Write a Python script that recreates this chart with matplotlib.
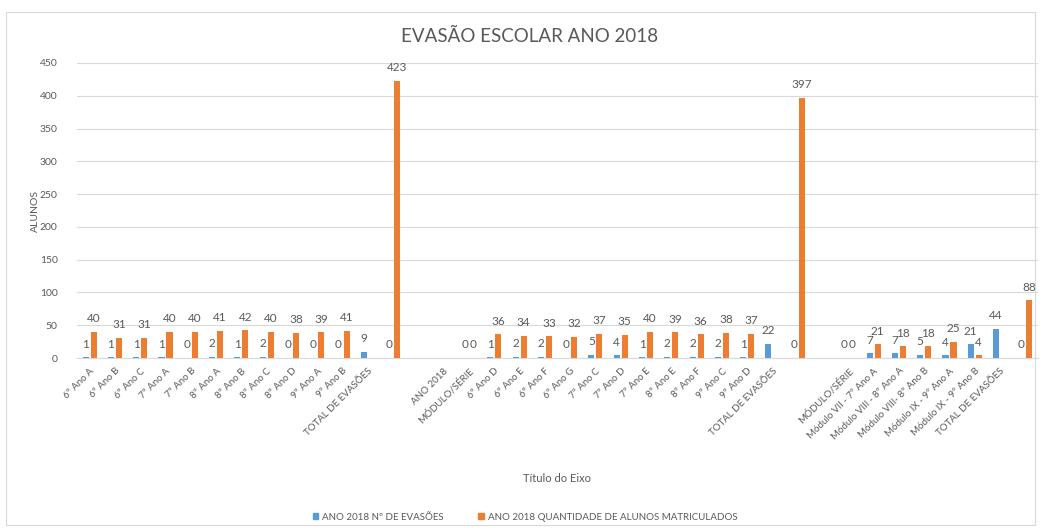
import numpy as np
import matplotlib
matplotlib.use("Agg")
import matplotlib.pyplot as plt
from matplotlib.patches import Patch, Rectangle

plt.rcParams['font.family'] = ['Lato', 'DejaVu Sans']

categories = [
    "6º Ano A", "6º Ano B", "6º Ano C", "7º Ano A", "7º Ano B", "8º Ano A", "8º Ano B",
    "8º Ano C", "8º Ano D", "9º Ano A", "9º Ano B", "TOTAL DE EVASÕES", "", "",
    "ANO 2018", "MÓDULO/SÉRIE", "6º Ano D", "6º Ano E", "6º Ano F", "6º Ano G",
    "7º Ano C", "7º Ano D", "7º Ano E", "8º Ano E", "8º Ano F", "9º Ano C", "9º Ano D",
    "TOTAL DE EVASÕES", "", "", "MÓDULO/SÉRIE", "Módulo VII - 7º Ano A",
    "Módulo VIII - 8º Ano A", "Módulo VIII- 8º Ano B", "Módulo IX - 9º Ano A",
    "Módulo IX - 9º Ano B", "TOTAL DE EVASÕES", "",
]

evasoes = [1, 1, 1, 1, 0, 2, 1, 2, 0, 0, 0, 9, 0, None,
           None, 0, 1, 2, 2, 0,
           5, 4, 1, 2, 2, 2, 1,
           22, 0, None, 0, 7,
           7, 5, 4,
           21, 44, 0]

matriculados = [40, 31, 31, 40, 40, 41, 42, 40, 38, 39, 41, None, 423, None,
                None, 0, 36, 34, 33, 32,
                37, 35, 40, 39, 36, 38, 37,
                None, 397, None, 0, 21,
                18, 18, 25,
                4, None, 88]

series_names = ["ANO 2018 Nº DE EVASÕES", "ANO 2018 QUANTIDADE DE ALUNOS MATRICULADOS"]
title = "EVASÃO ESCOLAR ANO 2018"
y_ticks = [0, 50, 100, 150, 200, 250, 300, 350, 400, 450]

BLUE = "#5B9BD5"
ORANGE = "#ED7D31"
TXT = "#595959"
GRID = "#D9D9D9"

W, H = 1040, 528
fig = plt.figure(figsize=(W / 100, H / 100), dpi=100)
fig.patch.set_facecolor("white")
fig.add_artist(Rectangle((6 / W, 1 - 525 / H), (1035 - 6) / W, (525 - 12) / H,
                         transform=fig.transFigure, fill=False, edgecolor=GRID, lw=0.8))

ax = fig.add_axes([77 / W, 1 - 358 / H, (1038 - 77) / W, (358 - 63) / H])

x = np.arange(len(categories))
off = 0.158
bw = 0.24

def clean(vals):
    return np.array([np.nan if v is None else v for v in vals], dtype=float)

b = clean(evasoes)
o = clean(matriculados)
ax.bar(x - off, np.nan_to_num(b), width=bw, color=BLUE, zorder=3)
ax.bar(x + off, np.nan_to_num(o), width=bw, color=ORANGE, zorder=3)

for xi, v in zip(x, evasoes):
    if v is not None:
        ax.annotate(str(v), (xi - off, v), xytext=(0, 9.5), textcoords="offset points",
                    ha="center", va="center", fontsize=8.5, color=TXT, zorder=4)
for xi, v in zip(x, matriculados):
    if v is not None:
        ax.annotate(str(v), (xi + off, v), xytext=(0, 9.5), textcoords="offset points",
                    ha="center", va="center", fontsize=8.5, color=TXT, zorder=4)

ax.set_xlim(-0.5, len(categories) - 0.5)
ax.set_ylim(0, 450)
ax.set_yticks(y_ticks)
ax.set_yticklabels([str(t) for t in y_ticks], fontsize=7.5, color=TXT)
ax.set_xticks(x)
ax.set_xticklabels(categories, rotation=45, ha="right", rotation_mode="anchor",
                   fontsize=7, color=TXT)
ax.tick_params(axis="both", length=0)
ax.tick_params(axis="x", pad=6)
ax.tick_params(axis="y", pad=14)
for s in ax.spines.values():
    s.set_visible(False)
ax.spines["bottom"].set_visible(True)
ax.spines["bottom"].set_color(GRID)
ax.grid(axis="y", color=GRID, lw=0.8, zorder=0)
ax.set_axisbelow(True)

fig.text(35 / W, 1 - 211 / H, "ALUNOS", rotation=90, ha="center", va="center",
         fontsize=7.5, color=TXT)
fig.text(557 / W, 1 - 478 / H, "Título do Eixo", ha="center", va="center",
         fontsize=8, color=TXT)
fig.text(530 / W, 1 - 36 / H, title, ha="center", va="center", fontsize=13.5,
         color=TXT)

handles = [Patch(color=BLUE, label=series_names[0]), Patch(color=ORANGE, label=series_names[1])]
fig.legend(handles=handles, loc="center", bbox_to_anchor=(525 / W, 1 - 517 / H), ncol=2,
           frameon=False, fontsize=7, labelcolor=TXT, handlelength=0.6, handleheight=0.6,
           handletextpad=0.4, columnspacing=3.5)

fig.savefig("out.png", dpi=100)
